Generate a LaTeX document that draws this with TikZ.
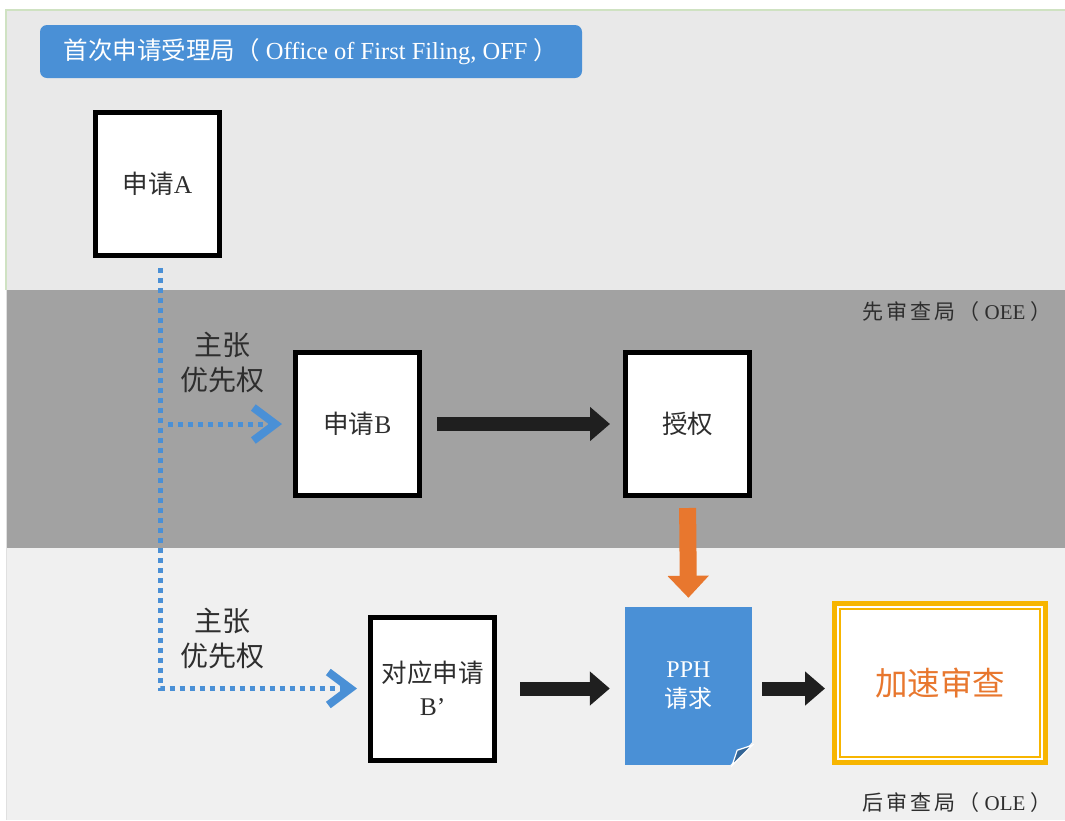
\documentclass[tikz,border=0pt]{standalone}
\usepackage{fontspec}
\setmainfont{Liberation Serif}
\newfontfamily\cjk{Noto Sans CJK SC}
\usetikzlibrary{arrows.meta}
\newcommand\zh[1]{{\cjk #1}}
\newcommand\chsp{\hspace{3pt}}
\definecolor{bandtop}{HTML}{E9E9E9}
\definecolor{bandmid}{HTML}{A2A2A2}
\definecolor{bandbot}{HTML}{F0F0F0}
\definecolor{edgegreen}{HTML}{CFE2C2}
\definecolor{pblue}{HTML}{4A90D6}
\definecolor{porange}{HTML}{E8772E}
\definecolor{pyellow}{HTML}{F7B500}
\definecolor{labgray}{HTML}{2E2E2E}
\tikzset{
  appbox/.style={draw=black, line width=5pt, fill=white, minimum width=124pt, minimum height=143pt, inner sep=0pt, align=center, font=\fontsize{25.5}{33}\selectfont, text=labgray},
  lab/.style={align=center, font=\fontsize{28}{35}\selectfont, text=labgray, inner sep=0pt},
  officelab/.style={anchor=east, font=\fontsize{21}{24}\selectfont, text=labgray, inner sep=0pt},
  dotline/.style={pblue, line width=5pt, dash pattern=on 5pt off 5pt, shorten >=11pt, -{Straight Barb[length=22pt, width=33pt, line width=8pt]}},
  blackarrow/.style={black!88, line width=14pt, -{Triangle[length=20pt, width=33pt]}},
}
\begin{document}
\begin{tikzpicture}[x=1pt, y=-1pt]
\useasboundingbox (0,0) rectangle (1065,820);
\fill[white] (0,0) rectangle (1065,820);
% bands
\fill[bandtop] (6,10) rectangle (1065,290);
\fill[bandmid] (6,290) rectangle (1065,548);
\fill[bandbot] (6,548) rectangle (1065,820);
\draw[edgegreen, line width=1.5pt] (6,290) -- (6,10) -- (1065,10);
\draw[black!12, line width=1pt] (6,290) -- (6,820);
% title
\node[fill=pblue, rounded corners=7pt, minimum width=542pt, minimum height=53pt, inner sep=0pt, text=white, font=\fontsize{24.5}{28}\selectfont] (title) at (311,51.5) {\zh{首次申请受理局（} Office of First Filing, OFF \zh{）}};
% office labels
\node[officelab] (oee) at (1052,312) {\zh{先\chsp 审\chsp 查\chsp 局\chsp（} OEE \zh{）}};
\node[officelab] (ole) at (1052,803) {\zh{后\chsp 审\chsp 查\chsp 局\chsp（} OLE \zh{）}};
% boxes
\node[appbox] (A) at (157.5,184) {\zh{申请}A};
\node[appbox] (B) at (357.5,424) {\zh{申请}B};
\node[appbox] (G) at (687.5,424) {\zh{授权}};
\node[appbox] (Bp) at (432.5,688.5) {\zh{对应申请}\\B’};
% PPH document
\node[fill=pblue, minimum width=127pt, minimum height=158pt, inner sep=0pt, align=center, text=white, font=\fontsize{24}{30}\selectfont] (pph) at (688.5,686) {PPH\\\zh{请求}};
\fill[bandbot] (pph.south east) -- ++(0,-23) -- ++(-22,23) -- cycle;
\filldraw[fill=pblue!70!black, draw=white, line width=1.2pt] ([shift={(-20,0)}]pph.south east) -- ([shift={(0,-20)}]pph.south east) -- ([shift={(-15,-15)}]pph.south east) -- cycle;
% accelerated exam
\node[draw=pyellow, line width=5pt, fill=white, minimum width=211pt, minimum height=159pt, inner sep=0pt, text=porange, font=\fontsize{32.5}{38}\selectfont] (acc) at (940,683) {\zh{加速审查}};
\draw[pyellow, line width=2pt] ([shift={(8,8)}]acc.north west) rectangle ([shift={(-8,-8)}]acc.south east);
% priority labels
\node[lab] (lab1) at (222,362) {\zh{主张}\\\zh{优先权}};
\node[lab] (lab2) at (222,638) {\zh{主张}\\\zh{优先权}};
% dotted priority lines
\coordinate (v0) at ([shift={(2.5,10)}]A.south);
\draw[dotline] (v0) |- (Bp.west);
\draw[dotline] ([xshift=8pt]v0 |- B.west) -- (B.west);
% black arrows
\draw[blackarrow, shorten <=15pt, shorten >=13pt] (B.east) -- (G.west);
\draw[blackarrow, shorten <=23pt, shorten >=15pt] (Bp.east) -- (Bp.east -| pph.west);
\draw[blackarrow, shorten <=10pt, shorten >=7pt] (Bp.east -| pph.east) -- (Bp.east -| acc.west);
% orange arrow
\draw[porange, line width=17pt, -{Triangle[length=22pt, width=40pt]}, shorten <=10pt, shorten >=9pt] (G.south) -- (pph.north);
\end{tikzpicture}
\end{document}
